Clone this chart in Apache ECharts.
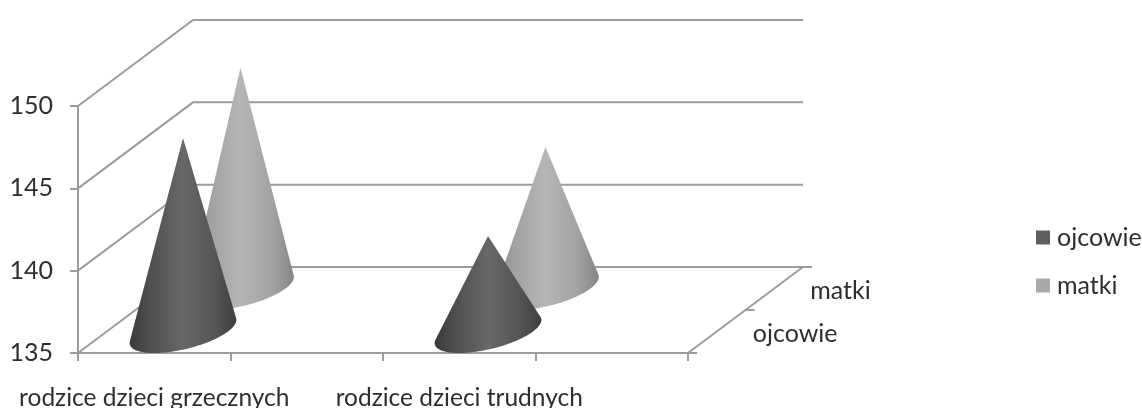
<!DOCTYPE html>
<html><head><meta charset="utf-8">
<style>html,body{margin:0;padding:0;background:#fff}#c{width:1142px;height:408px;filter:blur(0.5px)}</style>
<script src="https://cdn.jsdelivr.net/npm/echarts@6/dist/echarts.min.js"></script>
</head><body><div id="c"></div>
<script>
const categories = ['rodzice dzieci grzecznych', '', 'rodzice dzieci trudnych', ''];
const seriesNames = ['ojcowie', 'matki'];
const ojcowie = [146.75, null, 140.8, null];
const matki = [148.4, null, 143.6, null];
const yTicks = [135, 140, 145, 150];

const DX = 115, DY = -86, LINE = '#9c9c9c', LW = 2, TXT = '#2e2e2e', FONT = 'Lato', FS = 25;
const BASE_RX = 45;
const chart = echarts.init(document.getElementById('c'), null, {renderer: 'canvas'});

function cone(vals, depthFrac, stops) {
  return function (params, api) {
    const bandW = api.size([1, 0])[0];
    const p0 = api.coord([api.value(0), 135]);
    const top = api.coord([api.value(0), api.value(1)]);
    const cx = p0[0] + DX * depthFrac, cy = p0[1] + DY * depthFrac;
    const A = [cx, top[1] + DY * depthFrac];
    const dx = DX * 0.25, dy = DY * 0.25, a = bandW * BASE_RX / 152.5;
    const P = t => [cx + a * Math.cos(t) + dx * Math.sin(t), cy + dy * Math.sin(t)];
    const ang = p => Math.atan2(p[1] - A[1], p[0] - A[0]);
    let tR = 0, tL = Math.PI, bR = Infinity, bL = -Infinity;
    for (let i = 0; i <= 400; i++) {
      const t1 = -Math.PI / 2 + Math.PI * i / 400, t2 = t1 + Math.PI;
      const r = ang(P(t1)), l = ang(P(t2));
      if (r < bR) { bR = r; tR = t1; }
      if (l > bL) { bL = l; tL = t2; }
    }
    const pts = [A];
    const end = tL - 2 * Math.PI;
    for (let i = 0; i <= 80; i++) pts.push(P(tR + (end - tR) * i / 80));
    return {
      type: 'polygon',
      shape: {points: pts},
      style: {fill: new echarts.graphic.LinearGradient(0, 0, 1, 0, stops)}
    };
  };
}
const seriesData = vals => categories.map((c, i) => [i, vals[i]]).filter(d => d[1] !== null);
const stopsDark = [{offset: 0, color: '#3a3a3a'}, {offset: .2, color: '#505050'}, {offset: .5, color: '#686868'}, {offset: .8, color: '#555555'}, {offset: 1, color: '#3e3e3e'}];
const stopsLight = [{offset: 0, color: '#858585'}, {offset: .2, color: '#a0a0a0'}, {offset: .5, color: '#b6b6b6'}, {offset: .8, color: '#a2a2a2'}, {offset: 1, color: '#858585'}];

const lineStyle = {stroke: LINE, lineWidth: LW, fill: null};

chart.setOption({
  animation: false,
  legend: {
    data: seriesNames, orient: 'vertical', left: 1036, top: 225, padding: 0,
    itemWidth: 14, itemHeight: 14, itemGap: 23, icon: 'rect', itemStyle: {borderWidth: 0},
    textStyle: {fontFamily: FONT, fontSize: FS, color: TXT, padding: [0, 0, 0, 2]}
  },
  grid: {left: 78, right: 454, top: 106, bottom: 55, outerBoundsMode: 'none'},
  xAxis: {
    type: 'category', data: categories, boundaryGap: true,
    axisLine: {show: true, lineStyle: {color: LINE, width: LW}},
    axisTick: {show: true, length: 8, alignWithLabel: false, lineStyle: {color: LINE, width: LW}},
    axisLabel: {interval: 0, margin: 33, fontFamily: FONT, fontSize: 24.5, color: TXT, hideOverlap: false}
  },
  yAxis: {
    type: 'value', min: 135, max: 150, interval: 5,
    axisLine: {show: true, lineStyle: {color: LINE, width: LW}},
    axisTick: {show: true, length: 8, lineStyle: {color: LINE, width: LW}},
    axisLabel: {margin: 25, fontFamily: FONT, fontSize: FS, color: TXT, padding: [6, 0, 0, 0]},
    splitLine: {show: false}
  },
  series: [
    { // walls
      type: 'custom', name: 'walls', silent: true, z: 1, encode: {x: 0, y: 1},
      data: yTicks.map(v => [0, v]),
      renderItem(params, api) {
        const g = params.coordSys, y = api.coord([0, api.value(1)])[1];
        return {type: 'polyline', shape: {points: [[g.x, y], [g.x + DX, y + DY], [g.x + g.width + DX, y + DY]]}, style: lineStyle};
      }
    },
    { // floor right edge and depth axis
      type: 'custom', name: 'floor', silent: true, z: 1, encode: {x: 0, y: 1},
      data: [[0, 135, 0], [0, 135, 0.25], [0, 135, 0.5], [0, 135, 0.75], [0, 135, 1]],
      renderItem(params, api) {
        const g = params.coordSys, y = api.coord([0, 135])[1], f = api.value(2), name = seriesNames[f === .25 ? 0 : 1];
        const x0 = g.x + g.width, xf = x0 + DX * f, yf = y + DY * f, kids = [];
        if (f === .25 || f === .75) {
          kids.push({type: 'text', style: {text: name, x: xf + 36, y: yf + 2, align: 'left', verticalAlign: 'middle', fontFamily: FONT, fontSize: FS, fill: TXT}});
        } else {
          kids.push({type: 'line', shape: {x1: xf, y1: yf, x2: xf + 9, y2: yf}, style: lineStyle});
          if (f === 0) kids.push({type: 'line', shape: {x1: x0, y1: y, x2: x0 + DX, y2: y + DY}, style: lineStyle});
        }
        return {type: 'group', children: kids};
      }
    },
    {
      type: 'custom', name: 'matki', z: 2, encode: {x: 0, y: 1}, itemStyle: {color: '#a9a9a9'},
      data: seriesData(matki), renderItem: cone(matki, .75, stopsLight)
    },
    {
      type: 'custom', name: 'ojcowie', z: 3, encode: {x: 0, y: 1}, itemStyle: {color: '#5f5f5f'},
      data: seriesData(ojcowie), renderItem: cone(ojcowie, .25, stopsDark)
    }
  ]
});
</script></body></html>
